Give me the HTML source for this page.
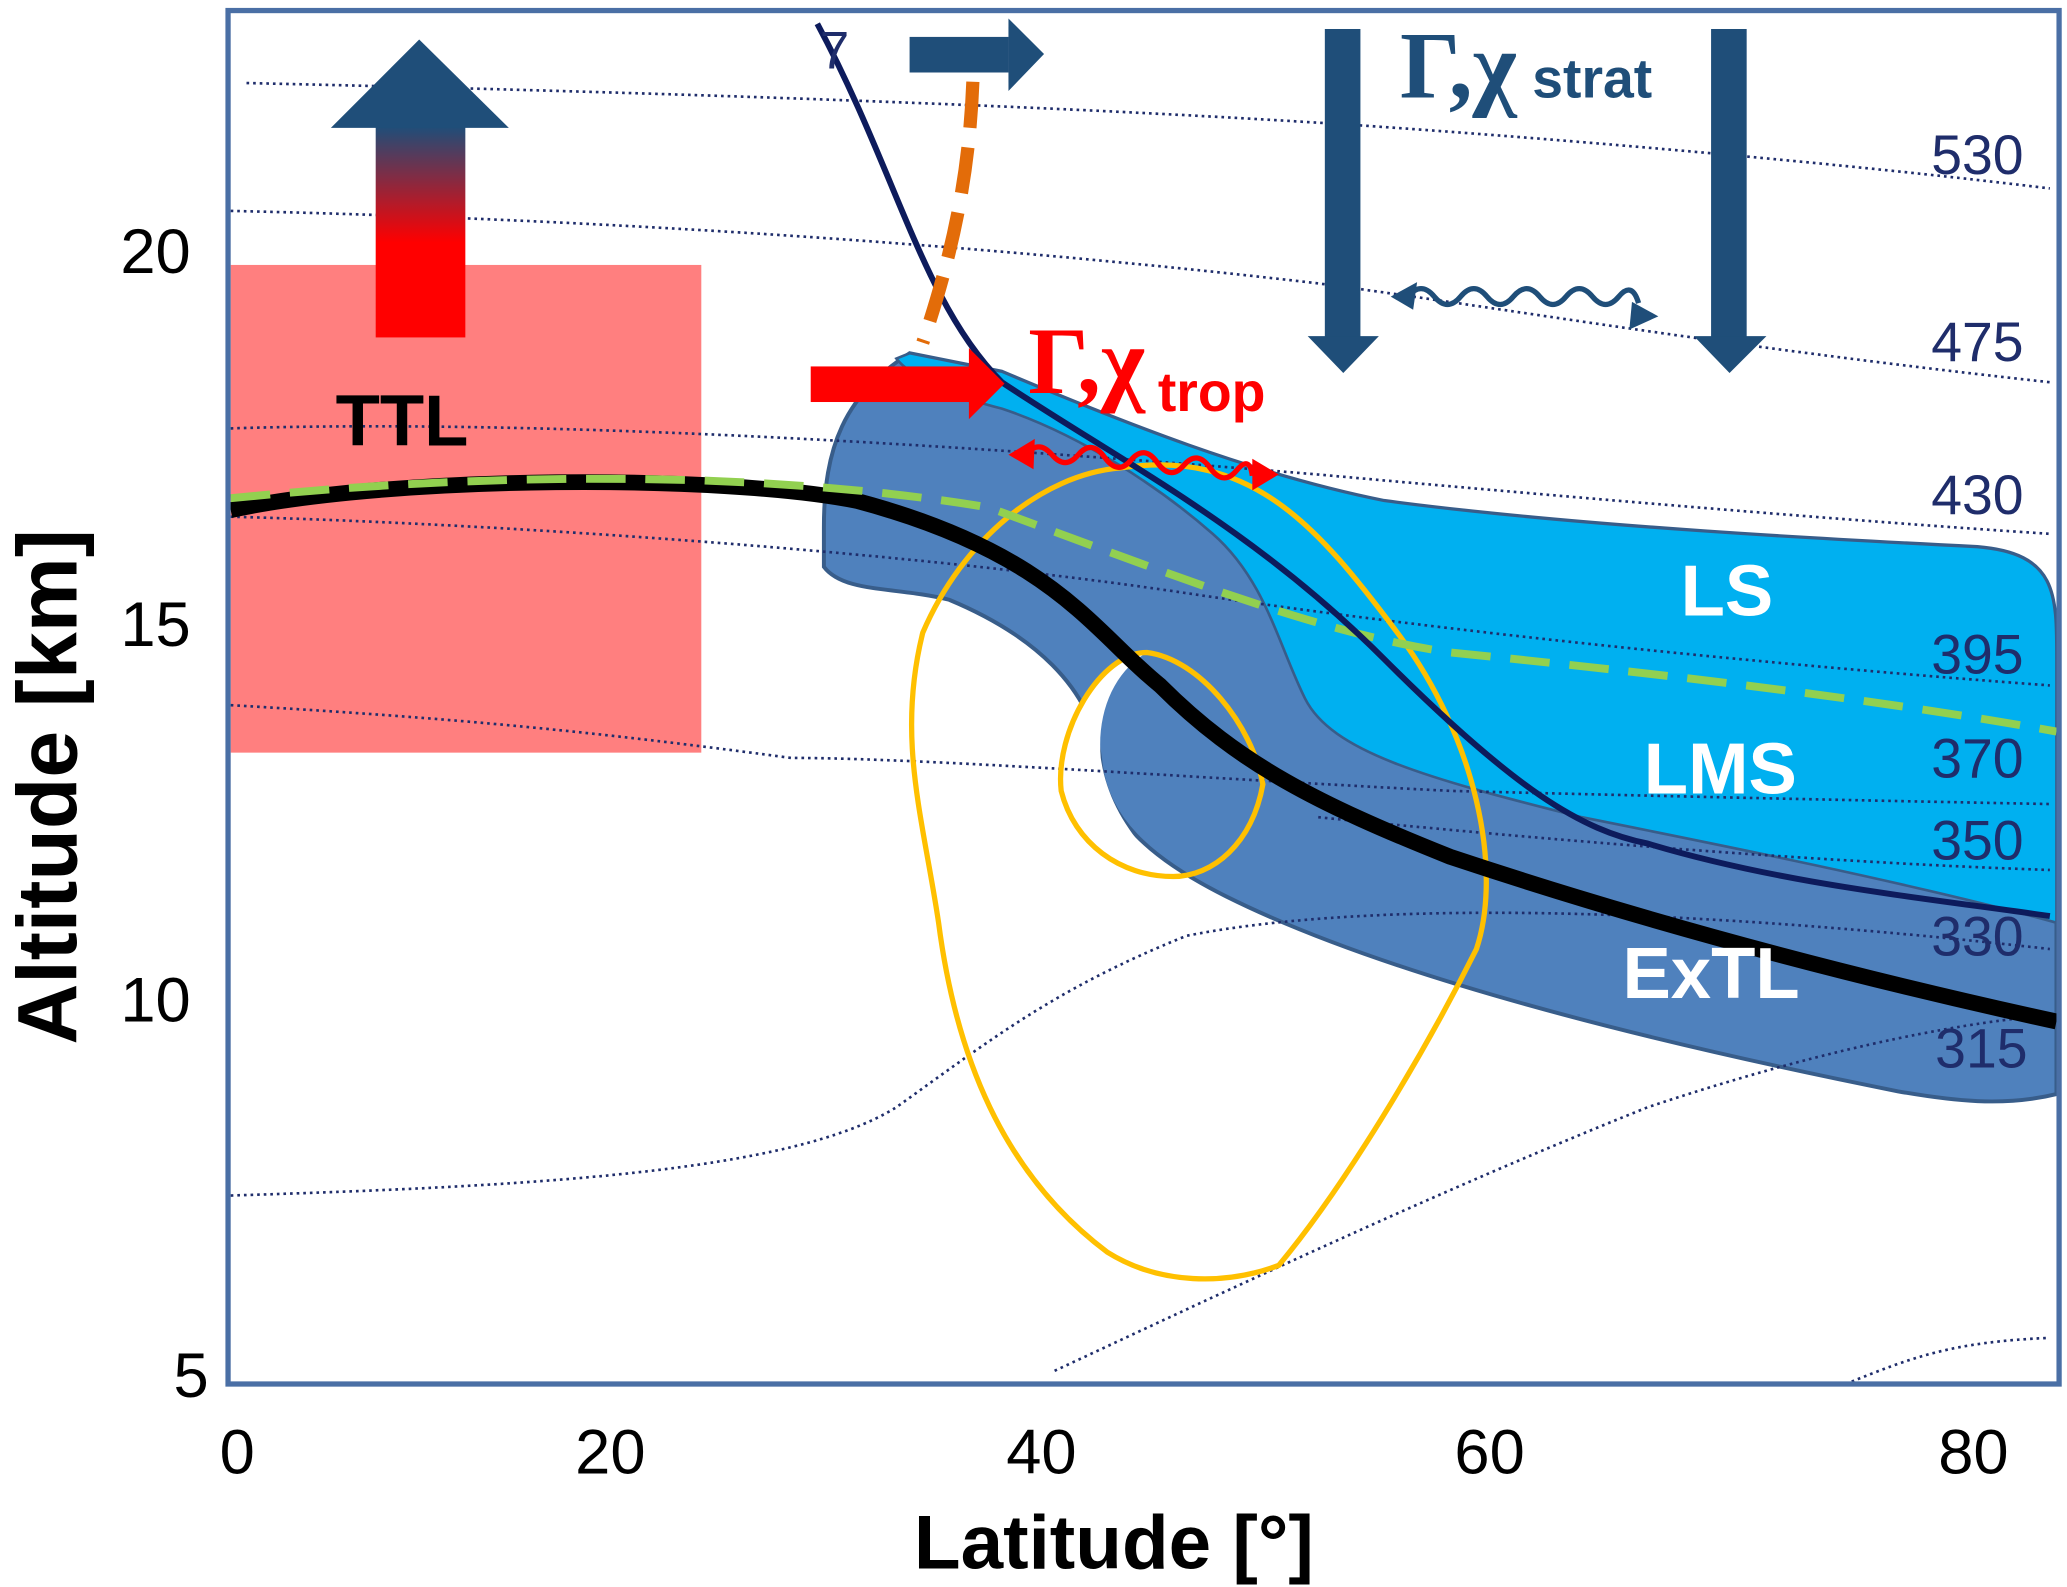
<!DOCTYPE html>
<html><head><meta charset="utf-8"><style>
html,body{margin:0;padding:0;background:#fff;}
svg{display:block;}
</style></head><body>
<svg width="2067" height="1587" viewBox="0 0 1568 1204" preserveAspectRatio="none" xmlns="http://www.w3.org/2000/svg" font-family="Liberation Sans, sans-serif">
<defs>
<linearGradient id="g1" x1="0" y1="1" x2="0" y2="0">
<stop offset="0" stop-color="#ff0000"/><stop offset="0.45" stop-color="#ff0000"/><stop offset="1" stop-color="#1f4e79"/>
</linearGradient>
</defs>
<rect x="175" y="201" width="357" height="370" fill="#ff7f7f"/>
<path d="M625,400 C625,340 640,300 690,268 L760,282 C850,320 950,360 1050,380 C1200,400 1400,410 1500,415 C1560,420 1560,450 1560,500 L1560,830 C1520,840 1480,835 1440,828 C1250,790 1050,740 930,680 C870,650 840,620 835,580 C830,520 780,480 720,455 C680,445 640,450 625,430 Z" fill="#4f81bd" stroke="#385d8a" stroke-width="3"/>
<path d="M690,268 L760,282 C850,320 950,360 1050,380 C1200,400 1400,410 1500,415 C1560,420 1560,450 1560,500 L1560,700 C1450,670 1300,640 1200,620 C1080,590 1010,570 990,530 C970,490 960,440 920,405 C880,370 820,330 760,310 C720,300 690,285 680,272 Z" fill="#00b0f0" stroke="#385d8a" stroke-width="2"/>
<path d="M870,495 C845,510 832,540 835,575 C840,610 860,640 890,665 C850,665 815,640 805,600 C800,555 835,495 870,495 Z" fill="#fff"/>
<g fill="none" stroke="#1f2d6b" stroke-width="2" stroke-dasharray="2,3">
<path d="M187,63 C500,70 800,80 1030,95 C1250,110 1450,130 1555,143"/>
<path d="M175,160 C400,165 700,180 1000,215 C1150,235 1300,262 1555,290"/>
<path d="M175,325 C400,318 700,335 1000,360 C1200,378 1400,395 1555,405"/>
<path d="M175,392 C400,398 700,420 900,450 C1100,480 1350,505 1555,520"/>
<path d="M175,535 C350,545 450,555 600,575 C700,575 900,590 1100,600 C1300,605 1450,608 1555,610"/>
<path d="M1000,620 C1200,640 1400,655 1555,660"/>
<path d="M175,907 C400,900 600,890 680,840 C750,790 800,750 900,710 C1000,690 1200,680 1555,720"/>
<path d="M800,1040 C950,970 1100,900 1250,840 C1400,790 1500,775 1555,770"/>
<path d="M1400,1050 C1450,1030 1480,1018 1555,1015"/>
</g>
<g fill="none" stroke="#ffc000" stroke-width="4">
<path d="M850,355 C950,340 1000,400 1060,480 C1120,560 1140,660 1120,720 C1080,800 1020,900 970,960 C930,975 880,975 840,950 C760,890 725,800 712,700 C700,620 680,560 700,480 C730,410 790,360 850,355 Z"/>
<path d="M870,495 C910,500 950,550 958,595 C950,640 920,665 890,665 C850,665 815,640 805,600 C800,555 835,495 870,495 Z"/>
</g>
<path d="M175,387 C300,360 550,360 650,380 C800,420 830,480 880,520 C940,580 1000,610 1100,650 C1250,700 1400,740 1560,775" fill="none" stroke="#000" stroke-width="12"/>
<path d="M175,378 C400,355 600,360 750,385 C900,440 1000,480 1100,495 C1300,515 1450,535 1560,555" fill="none" stroke="#92d050" stroke-width="6" stroke-dasharray="30,15"/>
<path d="M620,18 C680,130 700,230 760,290 C850,350 950,400 1050,500 C1150,600 1200,630 1250,640 C1350,670 1450,680 1555,695" fill="none" stroke="#0d1b5c" stroke-width="4.5"/>
<path d="M738,62 C735,140 720,200 700,260" fill="none" stroke="#e36c09" stroke-width="10" stroke-dasharray="35,15"/>
<rect x="285" y="96" width="68" height="160" fill="url(#g1)"/>
<polygon points="251,97 318,30 386,97" fill="#1f4e79"/>
<g fill="#1f4e79">
<rect x="690" y="28" width="75" height="27"/><polygon points="765,14 792,41 765,69"/>
<rect x="1005" y="22" width="27" height="235"/><polygon points="992,255 1046,255 1019,283"/>
<rect x="1298" y="22" width="27" height="235"/><polygon points="1285,255 1340,255 1312,283"/>
<polygon points="1055,225 1075,214 1072,235"/><polygon points="1258,240 1238,229 1236,250"/>
</g>
<path d="M1068,225 q10,-12 20,0 t20,0 t20,0 t20,0 t20,0 t20,0 t20,0 t20,0 t15,5" fill="none" stroke="#1f4e79" stroke-width="4"/>
<g fill="#ff0000">
<rect x="615" y="278" width="122" height="27"/><polygon points="735,264 762,291 735,318"/>
<polygon points="765,345 785,333 784,356"/><polygon points="970,360 950,348 950,372"/>
</g>
<path d="M778,345 q10,-12 20,0 t20,0 t20,2 t20,2 t20,2 t20,2 t20,2 t20,2 t12,4" fill="none" stroke="#ff0000" stroke-width="4"/>
<text x="622" y="52" font-size="40" fill="#1f2d6b">7</text>
<text x="1062" y="74" font-size="72" font-weight="bold" font-family="Liberation Serif, serif" fill="#1f4e79">Γ,χ<tspan font-family="Liberation Sans, sans-serif" font-size="42" dx="12">strat</tspan></text>
<text x="780" y="298" font-size="72" font-weight="bold" font-family="Liberation Serif, serif" fill="#ff0000">Γ,χ<tspan font-family="Liberation Sans, sans-serif" font-size="42" dx="10" dy="14">trop</tspan></text>
<text x="305" y="338" font-size="55" font-weight="bold" text-anchor="middle">TTL</text>
<g font-size="55" font-weight="bold" fill="#fff" text-anchor="middle">
<text x="1310" y="467">LS</text><text x="1305" y="602">LMS</text><text x="1298" y="757">ExTL</text>
</g>
<g font-size="42" fill="#1f2d6b">
<text x="1465" y="132">530</text><text x="1465" y="274">475</text><text x="1465" y="390">430</text>
<text x="1465" y="511">395</text><text x="1465" y="590">370</text><text x="1465" y="652">350</text>
<text x="1465" y="725">330</text><text x="1468" y="810">315</text>
</g>
<rect x="173" y="8" width="1389" height="1042" fill="none" stroke="#4a6fa5" stroke-width="4"/>
<g font-size="48" text-anchor="middle">
<text x="118" y="207">20</text><text x="118" y="490">15</text><text x="118" y="775">10</text><text x="145" y="1060">5</text>
<text x="180" y="1118">0</text><text x="463" y="1118">20</text><text x="790" y="1118">40</text><text x="1130" y="1118">60</text><text x="1497" y="1118">80</text>
</g>
<text x="845" y="1190" font-size="58" font-weight="bold" text-anchor="middle">Latitude [°]</text>
<text transform="translate(58,597) rotate(-90)" font-size="64" font-weight="bold" text-anchor="middle">Altitude [km]</text>
</svg>
</body></html>
